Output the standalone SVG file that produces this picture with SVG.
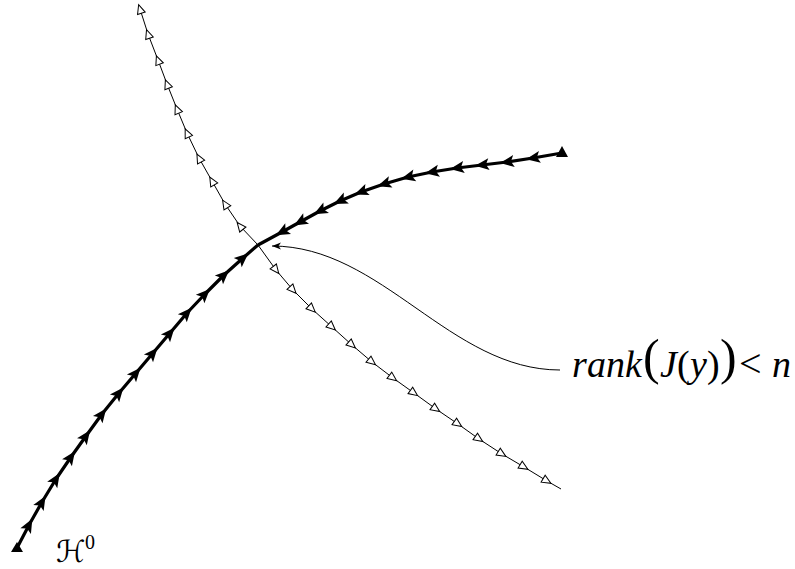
<svg xmlns="http://www.w3.org/2000/svg" width="795" height="569" viewBox="0 0 795 569">
<style>
.thick{fill:none;stroke:#000;stroke-width:3.2;stroke-linejoin:round;stroke-linecap:butt}
.thin{fill:none;stroke:#000;stroke-width:1;stroke-linejoin:round}
.it{font-style:italic}
</style>
<defs>
<marker id="thickArrow" markerUnits="userSpaceOnUse" viewBox="-9 -8 18 16" markerWidth="18" markerHeight="16" refX="0" refY="0" orient="auto">
<path d="M7,0 L-7,-6 L-4,0 L-7,6 Z" fill="#000"/>
</marker>
<marker id="thinArrow" markerUnits="userSpaceOnUse" viewBox="-7 -6 14 12" markerWidth="14" markerHeight="12" refX="0" refY="0" orient="auto">
<path d="M4.5,0 L-4.5,-4 L-4.5,4 Z" fill="#fff" stroke="#000" stroke-width="1" stroke-linejoin="miter"/>
</marker>
<marker id="tip" markerUnits="userSpaceOnUse" viewBox="-10 -5 11 10" markerWidth="11" markerHeight="10" refX="0" refY="0" orient="auto">
<path d="M0,0 L-9,-3.6 L-6.5,0 L-9,3.6 Z" fill="#000"/>
</marker>
</defs>
<g id="connectors">
<polyline id="thin-upper" class="thin" marker-mid="url(#thinArrow)" marker-end="url(#thinArrow)" points="258,245 240,226 225,204 212,181 199,158 187,133 177,109 167,84 158,60 148,34 140,9"/>
<polyline id="thin-lower" class="thin" marker-mid="url(#thinArrow)" points="258,245 276,270 293,290 312,309 332,327 352,345 372,362 393,378 414,393 436,409 458,424 479,439 502,454 524,467 547,481 561,489"/>
<polyline id="thick-lower" class="thick" marker-mid="url(#thickArrow)" points="17,548 29,525 42,502 56,479 71,457 86,436 102,414 119,393 136,373 153,353 170,333 187,313 205,294 224,275 243,258 258,245"/>
<polyline id="thick-upper" class="thick" marker-mid="url(#thickArrow)" points="562,153 533,158 507,162 482,165 457,168 432,172 408,177 384,184 361,192 340,201 320,211 300,222 282,232 258,245"/>
<polygon points="17,542 11,552 23,552" fill="#000"/>
<polygon points="562,146 556,157 568,157" fill="#000"/>
<path id="label-link" class="thin" d="M560,370 C450,370 382,246 272,246" marker-end="url(#tip)"/>
</g>
<g id="label-rank">
<text y="377" font-size="38" font-family="'Liberation Serif', 'DejaVu Serif', serif" fill="#000"><tspan class="it" x="572">r</tspan><tspan class="it" x="587">a</tspan><tspan class="it" x="606">n</tspan><tspan class="it" x="625">k</tspan><tspan x="643" y="374" font-size="50">(</tspan><tspan class="it" x="660" y="377">J</tspan><tspan x="677">(</tspan><tspan class="it" x="690">y</tspan><tspan x="707">)</tspan><tspan x="720" y="374" font-size="50">)</tspan><tspan x="739" y="377" font-size="40">&lt;</tspan><tspan class="it" x="772">n</tspan></text>
</g>
<g id="label-H0">
<text x="56" y="562" font-size="30" font-family="'DejaVu Serif', 'DejaVu Sans', serif" fill="#000">ℋ</text>
<text x="85" y="549" font-size="20" font-family="'Liberation Serif', serif" fill="#000">0</text>
</g>
</svg>
